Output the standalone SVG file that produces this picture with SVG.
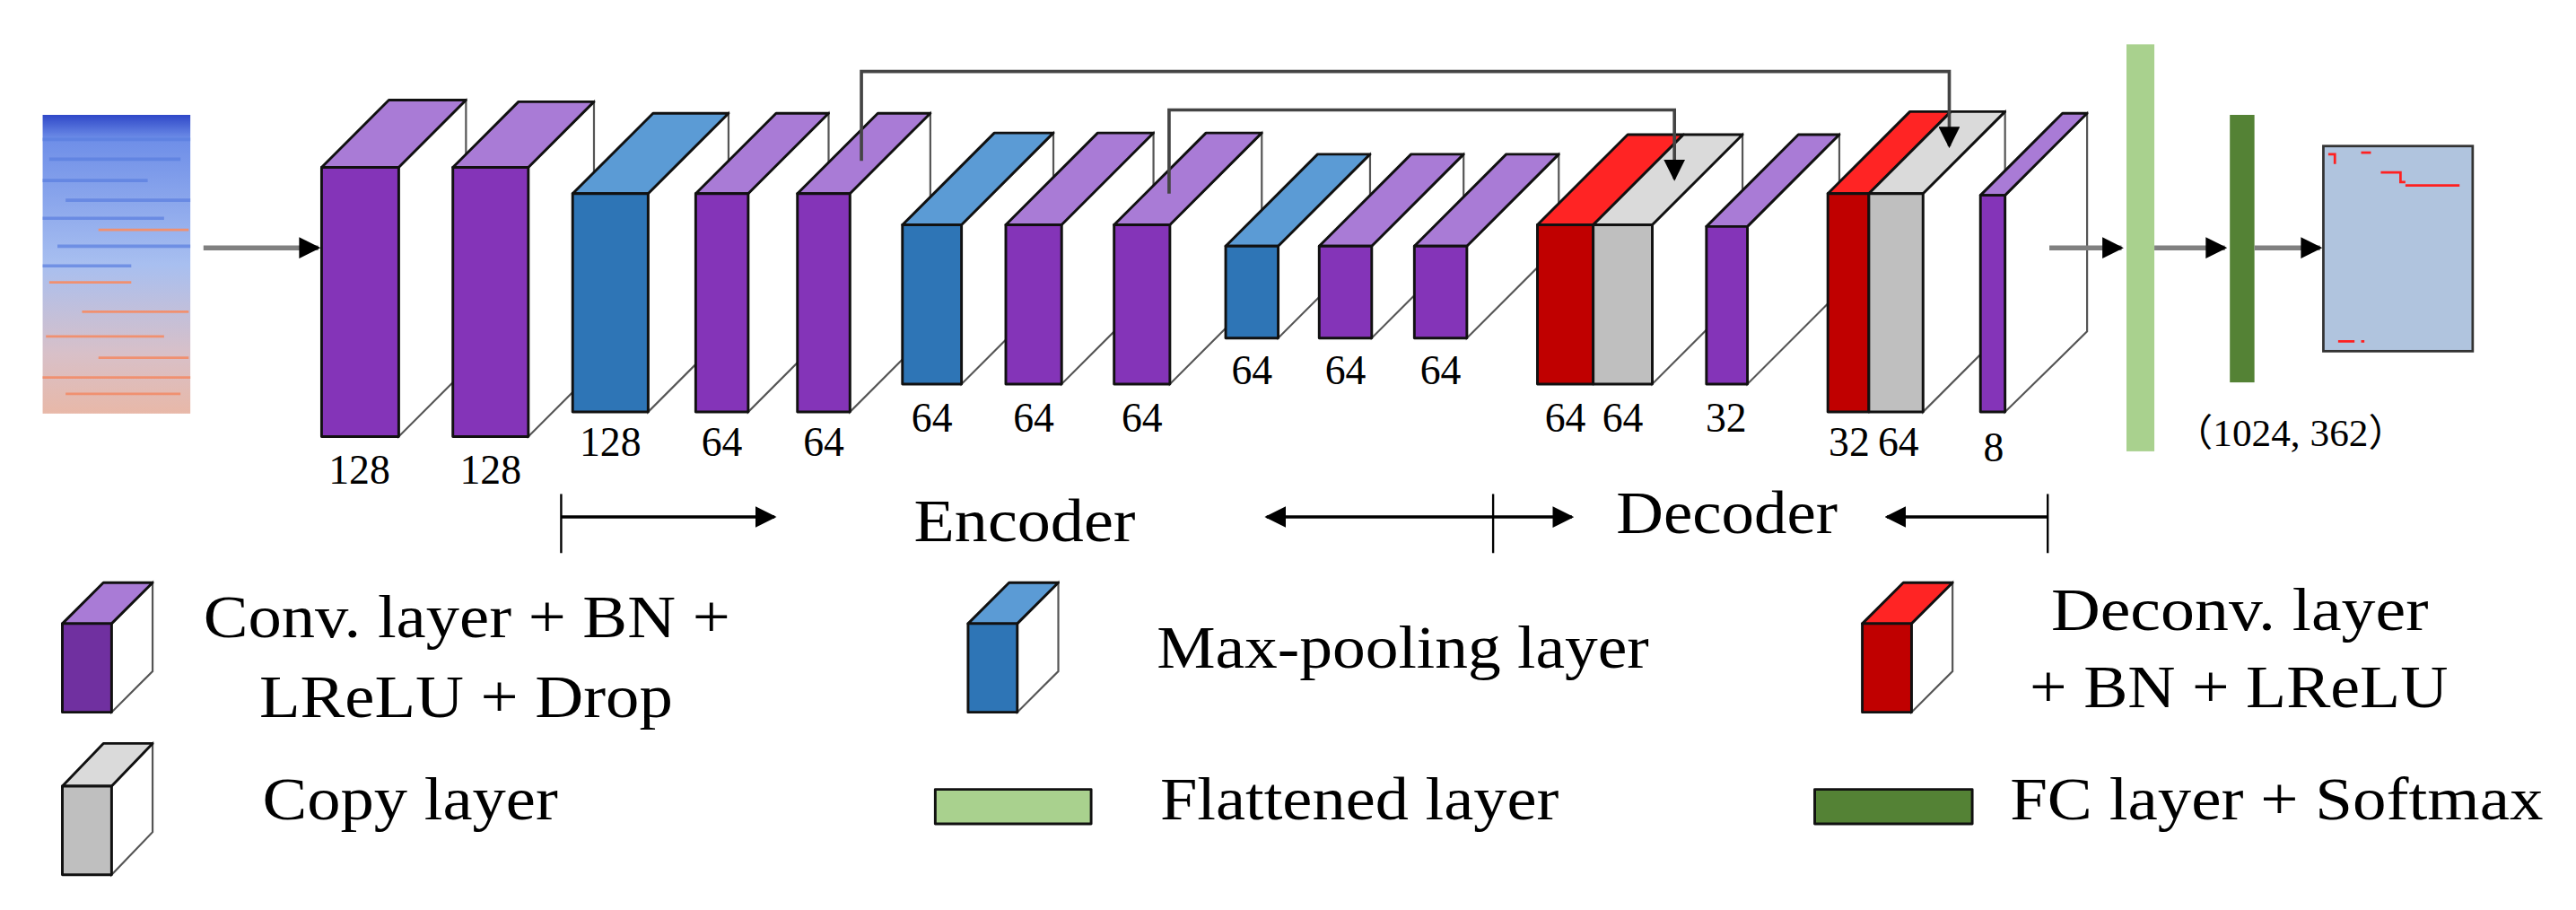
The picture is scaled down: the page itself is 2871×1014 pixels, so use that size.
<svg xmlns="http://www.w3.org/2000/svg" width="2871" height="1014" viewBox="0 0 2871 1014">
<defs>
<style>
.pf{fill:#8434b8}.pt{fill:#a97bd6}.bf{fill:#2e75b6}.bt{fill:#5b9bd5}.rf{fill:#c00000}.rt{fill:#ff2424}.gf{fill:#bfbfbf}.gt{fill:#dadada}
.e{stroke:#111;stroke-width:1.6;stroke-linejoin:round}
.side{fill:#fff;stroke:#555;stroke-width:1.2}
.lab{font-family:"Liberation Serif",serif;font-size:25px;text-anchor:middle;fill:#000}
.big{font-family:"Liberation Serif",serif;font-size:37px;fill:#000}
.ln{stroke:#808080;stroke-width:3;fill:none}
.sk{stroke:#444;stroke-width:2;fill:none}
.bl{stroke:#000;stroke-width:2;fill:none}
</style>
<marker id="a2" viewBox="0 0 10 10" refX="9" refY="5" markerWidth="13" markerHeight="13" orient="auto" markerUnits="userSpaceOnUse"><path d="M0,0L10,5L0,10z" fill="#000"/></marker>
<linearGradient id="sp" x1="0" y1="0" x2="0" y2="1">
<stop offset="0" stop-color="#2f48c8"/><stop offset="0.08" stop-color="#6e8ee8"/><stop offset="0.5" stop-color="#a8bff0"/><stop offset="0.8" stop-color="#d8c0c8"/><stop offset="1" stop-color="#e8b8a8"/>
</linearGradient>
</defs>
<rect width="2871" height="1014" fill="#fff"/>
<g transform="scale(1.8287)">
<g id="input">
<rect x="26" y="70" width="90" height="182" fill="url(#sp)"/>
<g stroke="#5a7ee0" stroke-width="2" opacity="0.7">
<line x1="26" y1="85" x2="116" y2="85"/><line x1="30" y1="97" x2="110" y2="97"/><line x1="26" y1="110" x2="90" y2="110"/><line x1="40" y1="122" x2="116" y2="122"/><line x1="26" y1="133" x2="100" y2="133"/><line x1="35" y1="150" x2="116" y2="150"/><line x1="26" y1="162" x2="80" y2="162"/>
</g>
<g stroke="#f09070" stroke-width="1.5">
<line x1="60" y1="140" x2="115" y2="140"/><line x1="30" y1="172" x2="80" y2="172"/><line x1="50" y1="190" x2="115" y2="190"/><line x1="28" y1="205" x2="100" y2="205"/><line x1="60" y1="218" x2="115" y2="218"/><line x1="26" y1="230" x2="116" y2="230"/><line x1="40" y1="240" x2="110" y2="240"/>
</g>
</g>
<g id="box1"><polygon class="side" points="243,102 284,61 284,225 243,266"/><polygon class="pt e" points="196,102 237,61 284,61 243,102"/><rect class="pf e" x="196" y="102" width="47" height="164"/><text class="lab" x="219" y="295">128</text></g>
<g id="box2"><polygon class="side" points="322,102 362,62 362,226 322,266"/><polygon class="pt e" points="276,102 316,62 362,62 322,102"/><rect class="pf e" x="276" y="102" width="46" height="164"/><text class="lab" x="299" y="295">128</text></g>
<g id="box3"><polygon class="side" points="395,118 444,69 444,202 395,251"/><polygon class="bt e" points="349,118 398,69 444,69 395,118"/><rect class="bf e" x="349" y="118" width="46" height="133"/><text class="lab" x="372" y="278">128</text></g>
<g id="box4"><polygon class="side" points="456,118 505,69 505,202 456,251"/><polygon class="pt e" points="424,118 473,69 505,69 456,118"/><rect class="pf e" x="424" y="118" width="32" height="133"/><text class="lab" x="440" y="278">64</text></g>
<g id="box5"><polygon class="side" points="518,118 567,69 567,202 518,251"/><polygon class="pt e" points="486,118 535,69 567,69 518,118"/><rect class="pf e" x="486" y="118" width="32" height="133"/><text class="lab" x="502" y="278">64</text></g>
<g id="box6"><polygon class="side" points="586,137 642,81 642,178 586,234"/><polygon class="bt e" points="550,137 606,81 642,81 586,137"/><rect class="bf e" x="550" y="137" width="36" height="97"/><text class="lab" x="568" y="263">64</text></g>
<g id="box7"><polygon class="side" points="647,137 703,81 703,178 647,234"/><polygon class="pt e" points="613,137 669,81 703,81 647,137"/><rect class="pf e" x="613" y="137" width="34" height="97"/><text class="lab" x="630" y="263">64</text></g>
<g id="box8"><polygon class="side" points="713,137 769,81 769,178 713,234"/><polygon class="pt e" points="679,137 735,81 769,81 713,137"/><rect class="pf e" x="679" y="137" width="34" height="97"/><text class="lab" x="696" y="263">64</text></g>
<g id="box9"><polygon class="side" points="779,150 835,94 835,150 779,206"/><polygon class="bt e" points="747,150 803,94 835,94 779,150"/><rect class="bf e" x="747" y="150" width="32" height="56"/><text class="lab" x="763" y="234">64</text></g>
<g id="box10"><polygon class="side" points="836,150 892,94 892,150 836,206"/><polygon class="pt e" points="804,150 860,94 892,94 836,150"/><rect class="pf e" x="804" y="150" width="32" height="56"/><text class="lab" x="820" y="234">64</text></g>
<g id="box11"><polygon class="side" points="894,150 950,94 950,150 894,206"/><polygon class="pt e" points="862,150 918,94 950,94 894,150"/><rect class="pf e" x="862" y="150" width="32" height="56"/><text class="lab" x="878" y="234">64</text></g>
<g id="box12"><polygon class="side" points="1007,137 1062,82 1062,179 1007,234"/><polygon class="rt e" points="937,137 992,82 1026,82 971,137"/><polygon class="gt e" points="971,137 1026,82 1062,82 1007,137"/><rect class="rf e" x="937" y="137" width="34" height="97"/><rect class="gf e" x="971" y="137" width="36" height="97"/><text class="lab" x="954" y="263">64</text><text class="lab" x="989" y="263">64</text></g>
<g id="box13"><polygon class="side" points="1065,138 1121,82 1121,178 1065,234"/><polygon class="pt e" points="1040,138 1096,82 1121,82 1065,138"/><rect class="pf e" x="1040" y="138" width="25" height="96"/><text class="lab" x="1052" y="263">32</text></g>
<g id="box14"><polygon class="side" points="1172,118 1222,68 1222,201 1172,251"/><polygon class="rt e" points="1114,118 1164,68 1189,68 1139,118"/><polygon class="gt e" points="1139,118 1189,68 1222,68 1172,118"/><rect class="rf e" x="1114" y="118" width="25" height="133"/><rect class="gf e" x="1139" y="118" width="33" height="133"/><text class="lab" x="1127" y="278">32</text><text class="lab" x="1157" y="278">64</text></g>
<g id="box15"><polygon class="side" points="1222,119 1272,69 1272,202 1222,251"/><polygon class="pt e" points="1207,119 1257,69 1272,69 1222,119"/><rect class="pf e" x="1207" y="119" width="15" height="132"/><text class="lab" x="1215" y="281">8</text></g>
<g id="flatten"><rect x="1296" y="27" width="17" height="248" fill="#a9d18e"/></g>
<g id="fc"><rect x="1359" y="70" width="15" height="163" fill="#548235"/><text x="1325" y="272" font-family="Liberation Serif, Noto Sans CJK SC, serif" font-size="23" textLength="142" lengthAdjust="spacingAndGlyphs">（1024, 362）</text></g>
<g id="output">
<rect x="1416" y="89" width="91" height="125" fill="#b0c4de" stroke="#333" stroke-width="1.5"/>
<g stroke="#ff2020" stroke-width="1.5" fill="none"><path d="M1419,94h4v6"/><path d="M1439,93h6"/><path d="M1451,105h12v6h3"/><path d="M1466,113h33"/><path d="M1425,208h10M1439,208h2"/></g>
</g>
<g id="connectors">
<line class="ln" x1="124" y1="151" x2="194" y2="151" marker-end="url(#a2)"/>
<line class="ln" x1="1249" y1="151" x2="1293" y2="151" marker-end="url(#a2)"/>
<line class="ln" x1="1313" y1="151" x2="1356" y2="151" marker-end="url(#a2)"/>
<line class="ln" x1="1374" y1="151" x2="1414" y2="151" marker-end="url(#a2)"/>
<polyline class="sk" points="525,98 525,43.5 1188,43.5 1188,89" marker-end="url(#a2)"/>
<polyline class="sk" points="712.5,118 712.5,67 1020.5,67 1020.5,109" marker-end="url(#a2)"/>
<g stroke="#000" stroke-width="1.3"><line x1="342" y1="301" x2="342" y2="337"/><line x1="910" y1="301" x2="910" y2="337"/><line x1="1248" y1="301" x2="1248" y2="337"/></g>
<line class="bl" x1="342" y1="315" x2="472" y2="315" marker-end="url(#a2)"/>
<line class="bl" x1="910" y1="315" x2="772" y2="315" marker-end="url(#a2)"/>
<line class="bl" x1="910" y1="315" x2="958" y2="315" marker-end="url(#a2)"/>
<line class="bl" x1="1248" y1="315" x2="1150" y2="315" marker-end="url(#a2)"/>
</g>
<text class="big" x="557" y="330" textLength="135" lengthAdjust="spacingAndGlyphs">Encoder</text>
<text class="big" x="985" y="325" textLength="135" lengthAdjust="spacingAndGlyphs">Decoder</text>
<g id="legend-conv"><polygon class="side" points="68,380 93,355 93,409 68,434"/><polygon class="pt e" points="38,380 63,355 93,355 68,380"/><rect class="e" fill="#7030a0" x="38" y="380" width="30" height="54"/><text class="big" x="124" y="388" textLength="321" lengthAdjust="spacingAndGlyphs">Conv. layer + BN +</text><text class="big" x="158" y="437" textLength="252" lengthAdjust="spacingAndGlyphs">LReLU + Drop</text></g>
<g id="legend-pool"><polygon class="side" points="620,380 645,355 645,409 620,434"/><polygon class="bt e" points="590,380 615,355 645,355 620,380"/><rect class="bf e" x="590" y="380" width="30" height="54"/><text class="big" x="705" y="407" textLength="300" lengthAdjust="spacingAndGlyphs">Max-pooling layer</text></g>
<g id="legend-deconv"><polygon class="side" points="1165,380 1190,355 1190,409 1165,434"/><polygon class="rt e" points="1135,380 1160,355 1190,355 1165,380"/><rect class="rf e" x="1135" y="380" width="30" height="54"/><text class="big" x="1250" y="384" textLength="230" lengthAdjust="spacingAndGlyphs">Deconv. layer</text><text class="big" x="1237" y="431" textLength="255" lengthAdjust="spacingAndGlyphs">+ BN + LReLU</text></g>
<g id="legend-copy"><polygon class="side" points="68,479 93,453 93,507 68,533"/><polygon class="gt e" points="38,479 63,453 93,453 68,479"/><rect class="gf e" x="38" y="479" width="30" height="54"/><text class="big" x="160" y="499" textLength="180" lengthAdjust="spacingAndGlyphs">Copy layer</text></g>
<g id="legend-flat"><rect class="e" fill="#a9d18e" x="570" y="481" width="95" height="21"/><text class="big" x="707" y="499" textLength="243" lengthAdjust="spacingAndGlyphs">Flattened layer</text></g>
<g id="legend-fc"><rect class="e" fill="#548235" x="1106" y="481" width="96" height="21"/><text class="big" x="1225" y="499" textLength="325" lengthAdjust="spacingAndGlyphs">FC layer + Softmax</text></g>
</g>
</svg>
